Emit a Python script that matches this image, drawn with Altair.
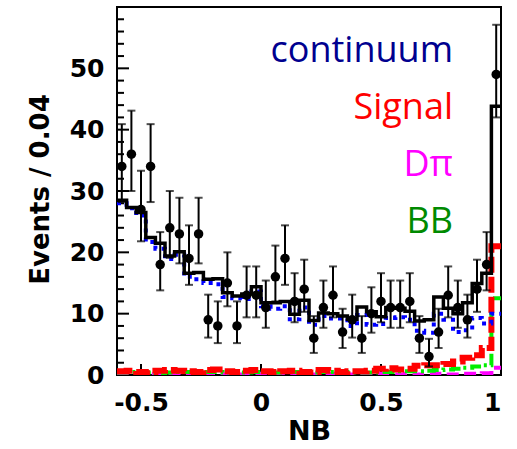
import altair as alt
import pandas as pd

# ---- data ----
bin_width = 0.04
n_bins = 40
x_lo, x_hi = -0.6, 1.0
bin_centers = [round(-0.58 + 0.04 * i, 2) for i in range(n_bins)]

data_counts = [34, 36, 27, 34, 18, 24, 23, 19, 23, 9,
               8, 15, 8, 13, 13, 11, 16, 19, 12, 14,
               6, 11, 13, 7, 9, 6, 10, 12, 11, 11,
               12, 6, 3, 7, 13, 11, 9, 14, 18, 49]
err_low = [5.8, 6.0, 5.2, 5.8, 4.2, 4.9, 4.8, 4.3, 4.8, 2.9,
           2.8, 3.8, 2.8, 3.6, 3.6, 3.3, 4.0, 4.3, 3.4, 3.7,
           2.4, 3.3, 3.6, 2.6, 2.9, 2.4, 3.1, 3.4, 3.3, 3.3,
           3.4, 2.4, 1.6, 2.6, 3.6, 3.3, 2.9, 3.7, 4.2, 7.0]
err_high = [6.9, 7.1, 6.3, 6.9, 5.3, 6.0, 5.9, 5.4, 5.9, 4.1,
            4.0, 5.0, 4.0, 4.7, 4.7, 4.4, 5.1, 5.4, 4.6, 4.8,
            3.6, 4.4, 4.7, 3.8, 4.1, 3.6, 4.3, 4.6, 4.4, 4.4,
            4.6, 3.6, 2.9, 3.8, 4.7, 4.4, 4.1, 4.8, 5.3, 8.1]

total_fit = [28.5, 27.3, 26.5, 22.4, 21.5, 19.4, 20.1, 16.6, 16.7, 15.6,
             15.7, 13.4, 12.9, 13.2, 14.4, 11.8, 11.8, 12.0, 9.9, 12.2,
             8.9, 10.1, 10.0, 9.6, 9.1, 11.1, 10.3, 9.5, 11.0, 10.9,
             10.4, 8.8, 9.0, 12.7, 10.9, 10.0, 11.8, 14.9, 16.6, 43.8]
continuum = [28.0, 27.2, 26.0, 21.7, 20.6, 18.9, 19.6, 16.0, 15.6, 15.0,
             14.8, 12.7, 12.5, 12.4, 13.6, 11.2, 10.8, 11.2, 9.1, 11.0,
             8.2, 9.6, 9.2, 9.2, 8.0, 9.8, 8.2, 8.3, 9.3, 9.4,
             9.0, 7.2, 6.9, 10.0, 9.0, 7.0, 7.3, 9.3, 8.4, 10.0]
signal = [0.6, 0.7, 0.5, 0.3, 0.7, 0.8, 0.7, 0.6, 0.5, 0.8,
          0.9, 0.6, 0.5, 0.7, 0.8, 0.6, 0.5, 0.6, 0.7, 0.5,
          0.4, 0.8, 0.7, 0.5, 0.6, 0.6, 0.7, 1.0, 1.1, 0.9,
          1.0, 1.5, 1.6, 1.6, 1.8, 2.2, 2.8, 3.2, 4.4, 21.0]
bbbar = [0.4, 0.5, 0.5, 0.4, 0.3, 0.4, 0.5, 0.5, 0.4, 0.5,
         0.5, 0.4, 0.3, 0.4, 0.5, 0.5, 0.4, 0.5, 0.5, 0.4,
         0.4, 0.5, 0.5, 0.5, 0.4, 0.4, 0.4, 0.5, 0.5, 0.6,
         0.6, 0.6, 0.7, 0.8, 0.9, 1.0, 1.2, 1.4, 1.6, 12.5]
dpi = [0.1, 0.2, 0.1, 0.1, 0.2, 0.1, 0.1, 0.2, 0.1, 0.1,
       0.2, 0.1, 0.1, 0.1, 0.2, 0.1, 0.1, 0.1, 0.2, 0.1,
       0.1, 0.1, 0.2, 0.1, 0.1, 0.1, 0.1, 0.2, 0.1, 0.1,
       0.2, 0.1, 0.1, 0.2, 0.1, 0.1, 0.2, 0.2, 0.3, 1.2]

legend_labels = ["continuum", "Signal", "D\u03c0", "BB"]
legend_colors = ["#00008f", "#ff0000", "#ff00ff", "#008a00"]

y_major_ticks = [0, 10, 20, 30, 40, 50]
y_minor_ticks = [v for v in range(2, 60, 2) if v % 10 != 0]
x_major_ticks = [-0.5, 0, 0.5]
x_tick_labels = [-0.5, 0, 0.5, 1]

# ---- layout ----
W, H = 384, 368
legend_x = 336
legend_y = [55, 112, 169, 226]
AXIS_FONT = "DejaVu Sans"

xscale = alt.Scale(domain=[x_lo, x_hi], nice=False, zero=False)
yscale = alt.Scale(domain=[0, 60], nice=False, zero=True)

x_axis = alt.Axis(values=x_tick_labels, title="NB", grid=False, ticks=False, domain=False,
                  labelFont=AXIS_FONT, labelFontWeight="bold", labelFontSize=25,
                  labelColor="black", labelPadding=15,
                  labelExpr="datum.value < 0 ? '-' + format(-datum.value, '.1f') : (datum.value == 0 ? '0' : (datum.value == 1 ? '1' : format(datum.value, '.1f')))",
                  titleFont=AXIS_FONT, titleFontWeight="bold", titleFontSize=27,
                  titleColor="black", titleY=56, titleBaseline="middle")
y_axis = alt.Axis(values=y_major_ticks, title="Events / 0.04", grid=False, ticks=False, domain=False,
                  labelFont=AXIS_FONT, labelFontWeight="bold", labelFontSize=25,
                  labelColor="black", labelPadding=13,
                  titleFont=AXIS_FONT, titleFontWeight="bold", titleFontSize=26,
                  titleColor="black", titleAngle=-90, titleX=-77, titleY=182,
                  titleBaseline="middle", titleAlign="center")


def step_df(values):
    xs = [round(c - bin_width / 2, 2) for c in bin_centers] + [x_hi]
    ys = list(values) + [values[-1]]
    return pd.DataFrame({"x": xs, "y": ys})


def step_layer(values, color, width, dash=None):
    kw = dict(interpolate="step-after", color=color, strokeWidth=width, clip=True)
    if dash is not None:
        kw["strokeDash"] = dash
    return alt.Chart(step_df(values)).mark_line(**kw).encode(
        x=alt.X("x:Q", scale=xscale, axis=x_axis),
        y=alt.Y("y:Q", scale=yscale, axis=y_axis),
    )


pts = pd.DataFrame({
    "x": bin_centers,
    "y": data_counts,
    "lo": [v - e for v, e in zip(data_counts, err_low)],
    "hi": [v + e for v, e in zip(data_counts, err_high)],
})

base_pts = alt.Chart(pts)
err_rule = base_pts.mark_rule(color="black", strokeWidth=2).encode(
    x=alt.X("x:Q", scale=xscale), y=alt.Y("lo:Q", scale=yscale), y2="hi:Q")
cap_hi = base_pts.mark_tick(color="black", orient="horizontal", size=8, thickness=2).encode(
    x=alt.X("x:Q", scale=xscale), y=alt.Y("hi:Q", scale=yscale))
cap_lo = base_pts.mark_tick(color="black", orient="horizontal", size=8, thickness=2).encode(
    x=alt.X("x:Q", scale=xscale), y=alt.Y("lo:Q", scale=yscale))
dots = base_pts.mark_circle(color="black", size=90, opacity=1).encode(
    x=alt.X("x:Q", scale=xscale), y=alt.Y("y:Q", scale=yscale))

# inward ticks
ymaj = alt.Chart(pd.DataFrame({"t": y_major_ticks})).mark_rule(color="black", strokeWidth=2).encode(
    y=alt.Y("t:Q", scale=yscale), x=alt.value(0), x2=alt.value(12))
ymin = alt.Chart(pd.DataFrame({"t": y_minor_ticks})).mark_rule(color="black", strokeWidth=2).encode(
    y=alt.Y("t:Q", scale=yscale), x=alt.value(0), x2=alt.value(7))
xmaj = alt.Chart(pd.DataFrame({"t": x_major_ticks})).mark_rule(color="black", strokeWidth=2).encode(
    x=alt.X("t:Q", scale=xscale), y=alt.value(H), y2=alt.value(H - 11))

layers = [
    ymaj, ymin, xmaj,
    step_layer(dpi, "#ff00ff", 4, [12, 6]),
    step_layer(bbbar, "#00ee00", 4, [12, 4, 3, 4]),
    step_layer(signal, "#ff0000", 6, [16, 4]),
    step_layer(continuum, "#0000ff", 4, [4, 5]),
    step_layer(total_fit, "black", 3.5),
    err_rule, cap_hi, cap_lo, dots,
]

for lab, col, ly in zip(legend_labels, legend_colors, legend_y):
    layers.append(
        alt.Chart(pd.DataFrame({"label": [lab]})).mark_text(
            font="Open Sans", fontSize=36, align="right", baseline="alphabetic", color=col
        ).encode(text="label:N", x=alt.value(legend_x), y=alt.value(ly))
    )

chart = alt.layer(*layers).properties(
    width=W, height=H,
    autosize=alt.AutoSizeParams(type="none"),
    padding={"left": 117, "top": 7, "right": 16, "bottom": 74},
    background="white",
).configure_view(stroke="black", strokeWidth=2)

chart.save("out.html", embed_options={"renderer": "svg", "actions": False})
